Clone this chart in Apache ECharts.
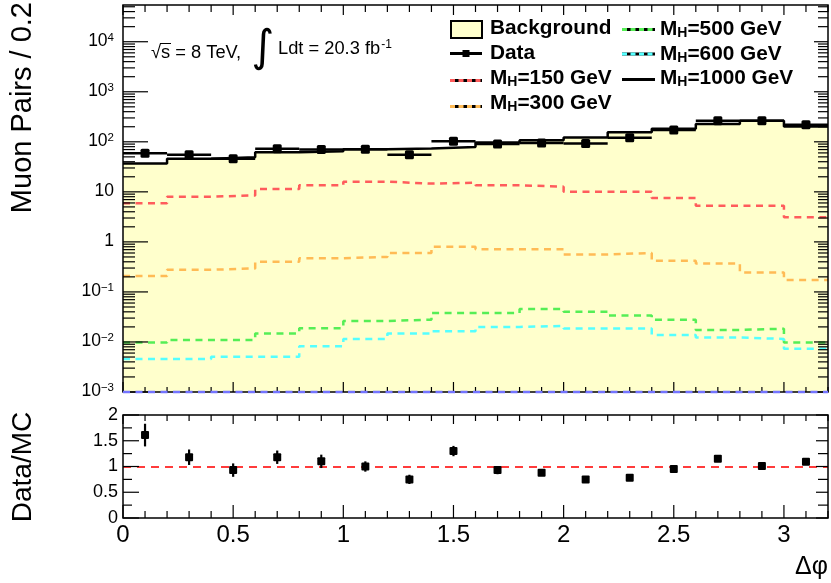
<!DOCTYPE html>
<html>
<head>
<meta charset="utf-8">
<script src="https://cdn.jsdelivr.net/npm/echarts@6/dist/echarts.min.js"></script>
<style>
  html, body { margin: 0; padding: 0; background: #fff; }
  #chart { width: 831px; height: 583px; }
</style>
</head>
<body>
<div id="chart"></div>
<script>
// ---- binning: 16 bins of width 0.2 in delta-phi ----
const binLow = [0.0, 0.2, 0.4, 0.6, 0.8, 1.0, 1.2, 1.4, 1.6, 1.8, 2.0, 2.2, 2.4, 2.6, 2.8, 3.0];
const binWidth = 0.2;
const xMin = 0, xMax = 3.2;

// ---- expected background (muon pairs per bin) ----
const background = [37.0, 45.8, 49.3, 62.1, 64.5, 71.2, 73.5, 79, 97, 108, 122, 155, 182, 228, 262, 202];

// ---- observed data ----
const dataCounts = [59.3, 55.1, 45.8, 72.6, 70, 71, 55, 103, 90, 95, 92, 121, 173, 262, 265, 220];

// ---- signal hypotheses ----
const sigMH150 = [5.9, 8.0, 8.5, 11.4, 13.5, 16.0, 14.6, 15.2, 13.5, 12.7, 10.1, 10.1, 7.5, 5.3, 5.3, 3.1];
const sigMH300 = [0.207, 0.277, 0.295, 0.40, 0.473, 0.50, 0.60, 0.795, 0.715, 0.715, 0.56, 0.60, 0.42, 0.37, 0.245, 0.173];
const sigMH500 = [0.0097, 0.0109, 0.0109, 0.0147, 0.0188, 0.0263, 0.0279, 0.038, 0.038, 0.0456, 0.0403, 0.0336, 0.0279, 0.0174, 0.0184, 0.0097];
const sigMH600 = [0.00454, 0.00454, 0.00505, 0.00505, 0.00824, 0.0115, 0.0147, 0.0164, 0.020, 0.0209, 0.0185, 0.0185, 0.0138, 0.01225, 0.0115, 0.0073];

// ---- Data/MC ratio and its uncertainty ----
const ratio    = [1.61, 1.18, 0.93, 1.18, 1.10, 1.00, 0.75, 1.30, 0.93, 0.88, 0.75, 0.78, 0.95, 1.15, 1.01, 1.09];
const ratioErr = [0.22, 0.15, 0.13, 0.13, 0.13, 0.10, 0.09, 0.10, 0.08, 0.06, 0.04, 0.05, 0.05, 0.05, 0.04, 0.06];

// ---- axis ranges / tick values ----
const yMainMin = 1e-3;
const yMainMax = Math.pow(10, 4.734);
const yRatioMin = 0, yRatioMax = 2;
const xLabelStep = 0.5;
const xMinorStep = 0.1;
const mainDecades = [-3, -2, -1, 0, 1, 2, 3, 4];

const FONT = '"Liberation Sans", Arial, Helvetica, sans-serif';
const C = {
  bkgFill: '#ffffcc',
  m150: '#ff5c5c',
  m300: '#ffbb55',
  m500: '#55ee55',
  m600: '#55ffff',
  floor: '#7474ff',
  unity: '#ff3b3b'
};
const DASH = [7, 5.5];

// step-histogram points: left edge of every bin plus the closing right edge
function histPoints(vals) {
  const pts = binLow.map((x, i) => [x, vals[i]]);
  pts.push([xMax, vals[vals.length - 1]]);
  return pts;
}
function sigSeries(name, vals, color) {
  return {
    name, type: 'line', step: 'end', xAxisIndex: 0, yAxisIndex: 0,
    data: histPoints(vals), symbol: 'none', silent: true, z: 3,
    lineStyle: { color, width: 2.5, type: DASH }
  };
}

// ---- tick + frame drawing through the axis scales ----
function makeTicks(xTicks, yTicks, yLo, yHi) {
  return function (params, api) {
    const bl = api.coord([xMin, yLo]);
    const tr = api.coord([xMax, yHi]);
    const left = bl[0], bottom = bl[1], right = tr[0], top = tr[1];
    const kids = [];
    const seg = (x1, y1, x2, y2) => kids.push({
      type: 'line', shape: { x1, y1, x2, y2 }, style: { stroke: '#000', lineWidth: 1.2 }
    });
    xTicks.forEach(t => {
      const x = api.coord([t.v, yLo])[0];
      seg(x, bottom, x, bottom - t.b);
      seg(x, top, x, top + t.t);
    });
    yTicks.forEach(t => {
      const y = api.coord([xMin, t.v])[1];
      seg(left, y, left + t.l, y);
      seg(right, y, right - t.r, y);
    });
    kids.push({
      type: 'rect', shape: { x: left, y: top, width: right - left, height: bottom - top },
      style: { fill: 'none', stroke: '#000', lineWidth: 1.5 }
    });
    return { type: 'group', children: kids };
  };
}
function xTickList(majLenB, minLenB, majLenT, minLenT) {
  const out = [];
  const n = Math.round((xMax - xMin) / xMinorStep);
  for (let i = 0; i <= n; i++) {
    const v = xMin + i * xMinorStep;
    const major = Math.abs(v / xLabelStep - Math.round(v / xLabelStep)) < 1e-6;
    out.push({ v, b: major ? majLenB : minLenB, t: major ? majLenT : minLenT });
  }
  return out;
}
const mainYTicks = [];
mainDecades.forEach(d => {
  const base = Math.pow(10, d);
  mainYTicks.push({ v: base, l: 25, r: 14 });
  for (let k = 2; k <= 9; k++) {
    const v = k * base;
    if (v < yMainMax) mainYTicks.push({ v, l: 12, r: 10 });
  }
});
const ratioYTicks = [];
for (let i = 0; i <= 8; i++) {
  const v = i * 0.25;
  const major = i % 2 === 0;
  ratioYTicks.push({ v, l: major ? 16 : 9, r: major ? 12 : 10 });
}

// ---- data points with error bars ----
function renderMainData(params, api) {
  const c = api.value(0), v = api.value(1), e = api.value(2);
  const p = api.coord([c, v]);
  const lo = api.coord([c - binWidth / 2, v]);
  const hi = api.coord([c + binWidth / 2, v]);
  const et = api.coord([c, v + e]);
  const eb = api.coord([c, v - e]);
  const st = { stroke: '#000', lineWidth: 2.5 };
  return {
    type: 'group', children: [
      { type: 'line', shape: { x1: lo[0], y1: lo[1], x2: hi[0], y2: hi[1] }, style: st },
      { type: 'line', shape: { x1: et[0], y1: et[1], x2: eb[0], y2: eb[1] }, style: st },
      { type: 'rect', shape: { x: p[0] - 4.5, y: p[1] - 4.5, width: 9, height: 9, r: 1.5 }, style: { fill: '#000' } }
    ]
  };
}
function renderRatio(params, api) {
  const c = api.value(0), v = api.value(1), e = api.value(2);
  const p = api.coord([c, v]);
  const et = api.coord([c, v + e]);
  const eb = api.coord([c, v - e]);
  return {
    type: 'group', children: [
      { type: 'line', shape: { x1: et[0], y1: et[1], x2: eb[0], y2: eb[1] }, style: { stroke: '#000', lineWidth: 2.2 } },
      { type: 'rect', shape: { x: p[0] - 4, y: p[1] - 4, width: 8, height: 8, r: 1 }, style: { fill: '#000' } }
    ]
  };
}
const binCenter = binLow.map(x => x + binWidth / 2);
const mainDataPts = binCenter.map((c, i) => [c, dataCounts[i], ratioErr[i] / ratio[i] * dataCounts[i]]);
const ratioPts = binCenter.map((c, i) => [c, ratio[i], ratioErr[i]]);

// ---- log axis labels with superscripts ----
function logLabel(v) {
  const ex = Math.log10(v);
  const r = Math.round(ex);
  if (Math.abs(ex - r) > 0.01) return '';
  if (r === 0) return '{b|1}';
  if (r === 1) return '{b|10}';
  return '{b|10}{s|' + (r < 0 ? '\u2212' + (-r) : r) + '}';
}

// ---- legend / annotation helpers ----
function legLine(x1, x2, y, color, dashed) {
  const items = [{
    type: 'line', shape: { x1, y1: y, x2, y2: y }, style: { stroke: '#000', lineWidth: 3 }
  }];
  if (dashed) items.push({
    type: 'line', shape: { x1, y1: y, x2, y2: y }, style: { stroke: color, lineWidth: 3, lineDash: [5, 3.5] }
  });
  return items;
}
const legRich = {
  b: { fontFamily: FONT, fontSize: 20.8, fontWeight: 'bold', color: '#000', lineHeight: 20, verticalAlign: 'top' },
  s: { fontFamily: FONT, fontSize: 14, fontWeight: 'bold', color: '#000', lineHeight: 14, padding: [9, 0, 0, 0] }
};
function legText(x, yTop, str) {
  return { type: 'text', x, y: yTop, style: { text: str, rich: legRich, verticalAlign: 'top', align: 'left' } };
}

const graphics = [];
// legend symbols
graphics.push({ type: 'rect', shape: { x: 451, y: 21, width: 31, height: 17 }, style: { fill: C.bkgFill, stroke: '#000', lineWidth: 2 } });
graphics.push(...legLine(450, 482, 53.5, '#000', false));
graphics.push({ type: 'rect', shape: { x: 462.5, y: 50, width: 7, height: 7 }, style: { fill: '#000' } });
graphics.push(...legLine(450, 482, 80.5, C.m150, true));
graphics.push(...legLine(450, 482, 106.5, C.m300, true));
graphics.push(...legLine(622, 655, 29.5, C.m500, true));
graphics.push(...legLine(622, 655, 54, C.m600, true));
graphics.push(...legLine(622, 655, 79.5, '#000', false));
// legend labels
graphics.push(legText(490, 18, '{b|Background}'));
graphics.push(legText(490, 43, '{b|Data}'));
graphics.push(legText(490, 67.5, '{b|M}{s|H}{b|=150 GeV}'));
graphics.push(legText(490, 93, '{b|M}{s|H}{b|=300 GeV}'));
graphics.push(legText(660, 18.5, '{b|M}{s|H}{b|=500 GeV}'));
graphics.push(legText(660, 43.5, '{b|M}{s|H}{b|=600 GeV}'));
graphics.push(legText(660, 67.5, '{b|M}{s|H}{b|=1000 GeV}'));
// energy / luminosity annotation
graphics.push({ type: 'text', x: 151, y: 52.5, style: { text: '\u221As = 8 TeV,', fontFamily: FONT, fontSize: 18.3, fill: '#000', verticalAlign: 'middle', align: 'left' } });
graphics.push({ type: 'line', shape: { x1: 160, y1: 43.5, x2: 171, y2: 43.5 }, style: { stroke: '#000', lineWidth: 1 } });
graphics.push({ type: 'text', x: 263, y: 50, style: { text: '\u222B', fontFamily: '"DejaVu Sans", sans-serif', fontSize: 44, fill: '#000', verticalAlign: 'middle', align: 'center' } });
graphics.push({
  type: 'text', x: 278, y: 49, style: {
    text: '{b|Ldt = 20.3 fb}{s|-1}', verticalAlign: 'middle', align: 'left',
    rich: {
      b: { fontFamily: FONT, fontSize: 18.3, color: '#000', lineHeight: 18, verticalAlign: 'bottom' },
      s: { fontFamily: FONT, fontSize: 12, color: '#000', lineHeight: 12, padding: [0, 0, 8, 1] }
    }
  }
});
// axis titles
graphics.push({ type: 'text', x: 23, y: 2, rotation: Math.PI / 2, style: { text: 'Muon Pairs / 0.2', fontFamily: FONT, fontSize: 29, fill: '#000', align: 'right', verticalAlign: 'middle' } });
graphics.push({ type: 'text', x: 23, y: 467, rotation: Math.PI / 2, style: { text: 'Data/MC', fontFamily: FONT, fontSize: 28, fill: '#000', align: 'center', verticalAlign: 'middle' } });
graphics.push({ type: 'text', x: 828, y: 567, style: { text: '\u0394\u03C6', fontFamily: FONT, fontSize: 25, fill: '#000', align: 'right', verticalAlign: 'middle' } });

const chart = echarts.init(document.getElementById('chart'), null, { renderer: 'canvas' });
chart.setOption({
  animation: false,
  backgroundColor: '#fff',
  grid: [
    { left: 123, right: 3, top: 5, height: 387, containLabel: false, outerBoundsMode: 'none' },
    { left: 123, right: 3, top: 415, height: 103, containLabel: false, outerBoundsMode: 'none' }
  ],
  xAxis: [
    {
      gridIndex: 0, type: 'value', min: xMin, max: xMax, interval: xLabelStep,
      axisLine: { show: false }, axisTick: { show: false }, splitLine: { show: false }, axisLabel: { show: false }
    },
    {
      gridIndex: 1, type: 'value', min: xMin, max: xMax, interval: xLabelStep,
      axisLine: { show: false }, axisTick: { show: false }, splitLine: { show: false },
      axisLabel: {
        show: true, fontFamily: FONT, fontSize: 24, color: '#000', margin: 5,
        showMinLabel: true, showMaxLabel: true,
        formatter: v => (Math.abs(v / xLabelStep - Math.round(v / xLabelStep)) < 1e-6 ? String(+v.toFixed(2)) : '')
      }
    }
  ],
  yAxis: [
    {
      gridIndex: 0, type: 'log', logBase: 10, min: yMainMin, max: yMainMax,
      axisLine: { show: false }, axisTick: { show: false }, splitLine: { show: false },
      axisLabel: {
        show: true, margin: 9, showMinLabel: true, showMaxLabel: false,
        formatter: logLabel,
        rich: {
          b: { fontFamily: FONT, fontSize: 17.5, color: '#000', lineHeight: 17, verticalAlign: 'bottom' },
          s: { fontFamily: FONT, fontSize: 11.5, color: '#000', lineHeight: 11, padding: [0, 0, 8, 0] }
        }
      }
    },
    {
      gridIndex: 1, type: 'value', min: yRatioMin, max: yRatioMax, interval: 0.5,
      axisLine: { show: false }, axisTick: { show: false }, splitLine: { show: false },
      axisLabel: {
        show: true, fontFamily: FONT, fontSize: 18, color: '#000', margin: 5,
        showMinLabel: true, showMaxLabel: true,
        formatter: v => String(+v.toFixed(2))
      }
    }
  ],
  series: [
    {
      name: 'Background', type: 'line', step: 'end', xAxisIndex: 0, yAxisIndex: 0,
      data: histPoints(background), symbol: 'none', silent: true, z: 2,
      lineStyle: { color: '#000', width: 2.5 },
      areaStyle: { color: C.bkgFill, opacity: 1, origin: 'start' }
    },
    sigSeries('M_H=150 GeV', sigMH150, C.m150),
    sigSeries('M_H=300 GeV', sigMH300, C.m300),
    sigSeries('M_H=500 GeV', sigMH500, C.m500),
    sigSeries('M_H=600 GeV', sigMH600, C.m600),
    {
      name: 'Data', type: 'custom', xAxisIndex: 0, yAxisIndex: 0, z: 5, silent: true,
      data: mainDataPts, renderItem: renderMainData
    },
    {
      name: 'frameMain', type: 'custom', xAxisIndex: 0, yAxisIndex: 0, z: 10, silent: true,
      data: [[xMin, 1]], renderItem: makeTicks(xTickList(10, 5, 10, 7), mainYTicks, yMainMin, yMainMax)
    },
    {
      // dashed histogram lying on the lower edge of the log range
      name: 'floor', type: 'line', xAxisIndex: 0, yAxisIndex: 0, z: 11, silent: true, clip: false,
      data: [[xMin, yMainMin], [xMax, yMainMin]], symbol: 'none',
      lineStyle: { color: C.floor, width: 2.5, type: DASH }
    },
    {
      name: 'Data/MC', type: 'custom', xAxisIndex: 1, yAxisIndex: 1, z: 5, silent: true,
      data: ratioPts, renderItem: renderRatio,
      markLine: {
        silent: true, symbol: 'none', label: { show: false },
        lineStyle: { color: C.unity, width: 2, type: [8, 6] },
        data: [{ yAxis: 1 }]
      }
    },
    {
      name: 'frameRatio', type: 'custom', xAxisIndex: 1, yAxisIndex: 1, z: 10, silent: true,
      data: [[xMin, 1]], renderItem: makeTicks(xTickList(13, 7, 9, 6), ratioYTicks, yRatioMin, yRatioMax)
    }
  ],
  graphic: graphics
});
</script>
</body>
</html>
